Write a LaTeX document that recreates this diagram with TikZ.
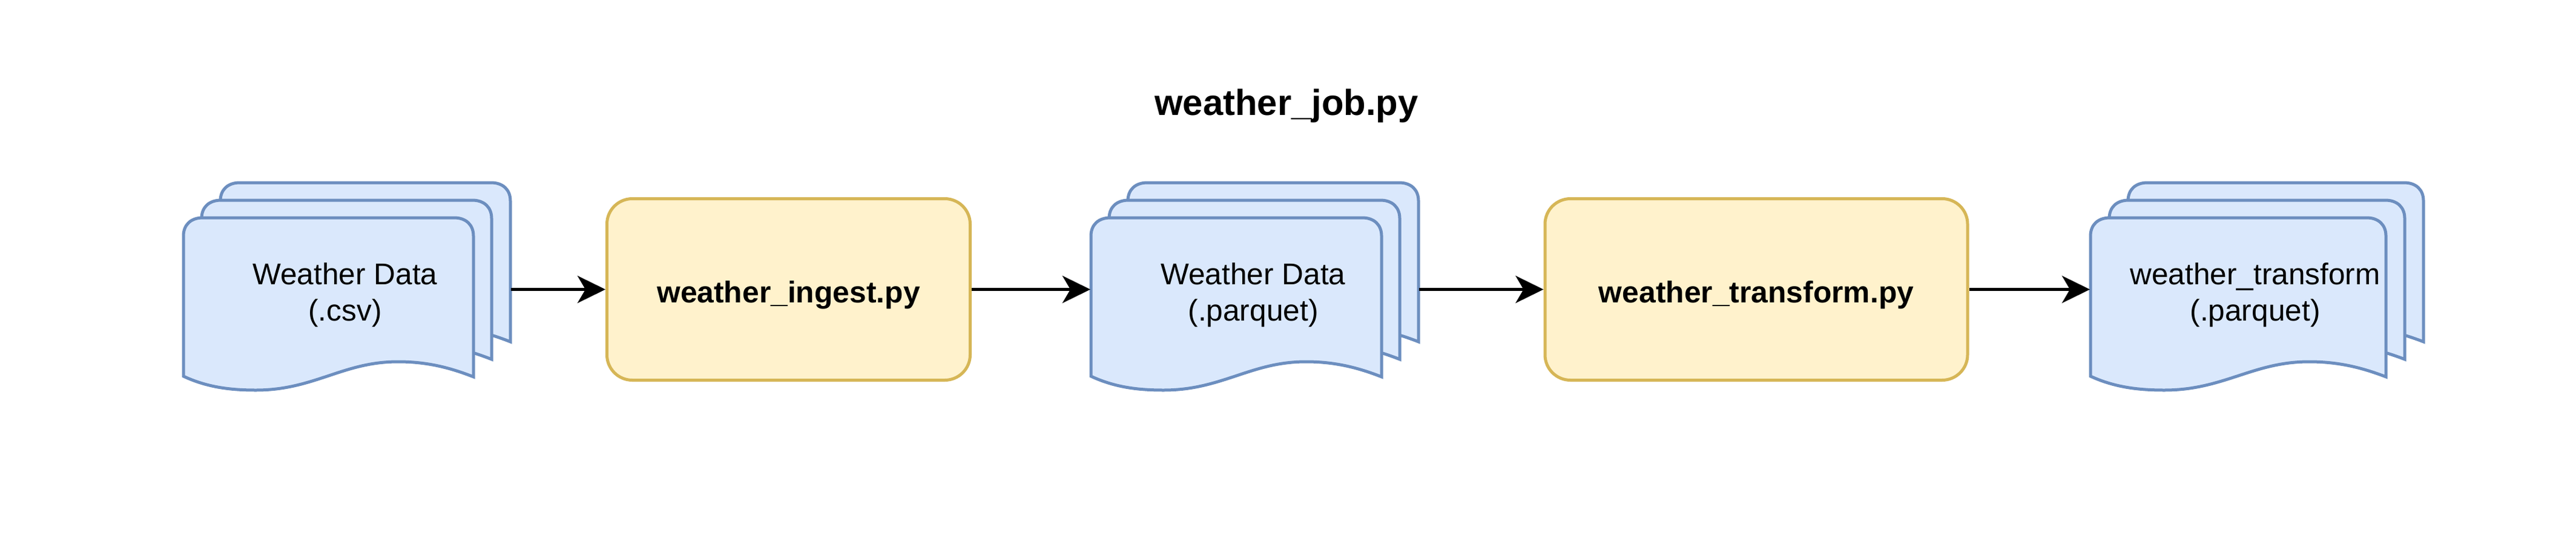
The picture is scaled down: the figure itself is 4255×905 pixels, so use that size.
\documentclass[tikz,border=0pt]{standalone}
\usepackage{fontspec}
\setmainfont{Liberation Sans}
\usetikzlibrary{arrows.meta}
\definecolor{docfill}{HTML}{DAE8FC}
\definecolor{docline}{HTML}{6C8EBF}
\definecolor{boxfill}{HTML}{FFF2CC}
\definecolor{boxline}{HTML}{D6B656}
\tikzset{
  sheet/.style={draw=docline,fill=docfill,line width=2.5pt,miter limit=10},
  doclabel/.style={inner sep=0pt,align=center,anchor=base,font=\fontsize{24.8}{30}\selectfont},
  process/.style={draw=boxline,fill=boxfill,line width=2.5pt,rounded corners=21pt,inner sep=0pt,
    text height=28pt,text depth=6.5pt,font=\fontsize{24.9}{30}\selectfont\bfseries},
  title/.style={inner sep=0pt,anchor=base,font=\fontsize{29.9}{36}\selectfont\bfseries},
  flow/.style={draw=black,line width=2.4pt,-{Stealth[length=23pt,width=22.5pt,inset=6.5pt]}}
}
% #1 left x, #2 top y, #3 sheet width
\newcommand{\docsheet}[3]{%
  \path[sheet] (#1,#2+30) .. controls (#1,#2+12) and (#1+12,#2) .. (#1+32,#2)
    -- (#1+#3-32,#2) .. controls (#1+#3-12,#2) and (#1+#3,#2+12) .. (#1+#3,#2+30)
    -- (#1+#3,#2+263)
    .. controls (#1+#3*0.92,#2+248) and (#1+#3*0.84,#2+238) .. (#1+#3*0.74,#2+238)
    .. controls (#1+#3*0.55,#2+238) and (#1+#3*0.45,#2+285) .. (#1+#3*0.25,#2+285)
    .. controls (#1+#3*0.16,#2+285) and (#1+#3*0.08,#2+280) .. (#1,#2+262)
    -- cycle;}
\begin{document}
\begin{tikzpicture}[x=0.5pt,y=-0.5pt]
\useasboundingbox (0,0) rectangle (4255,905);
\fill[white] (0,0) rectangle (4255,905);

\node[title] (jobtitle) at (2125,190) {weather\_job.py};

% first document stack
\docsheet{364}{302}{479}
\docsheet{333}{331}{479}
\docsheet{303}{360}{479}
\node[doclabel] (doca) at (570,530) {Weather Data\\(.csv)};
\coordinate (docaout) at (844,478.5);

% second document stack
\docsheet{1863}{302}{480}
\docsheet{1832}{331}{480}
\docsheet{1802}{360}{480}
\node[doclabel] (docb) at (2070,530) {Weather Data\\(.parquet)};
\coordinate (docbin) at (1801,478.5);
\coordinate (docbout) at (2344,478.5);

% third document stack
\docsheet{3515}{302}{488}
\docsheet{3484}{331}{488}
\docsheet{3453}{360}{488}
\node[doclabel] (docc) at (3725,530) {weather\_transform\\(.parquet)};
\coordinate (doccin) at (3452,478.5);

% process boxes
\node[process,minimum width=300pt,minimum height=150pt] (ingest) at (1302.5,478.5) {weather\_ingest.py};
\node[process,minimum width=349pt,minimum height=150pt] (transform) at (2901,478.5) {weather\_transform.py};

\draw[flow] (docaout) -- (ingest.west);
\draw[flow] (ingest.east) -- (docbin);
\draw[flow] (docbout) -- (transform.west);
\draw[flow] (transform.east) -- (doccin);
\end{tikzpicture}
\end{document}
